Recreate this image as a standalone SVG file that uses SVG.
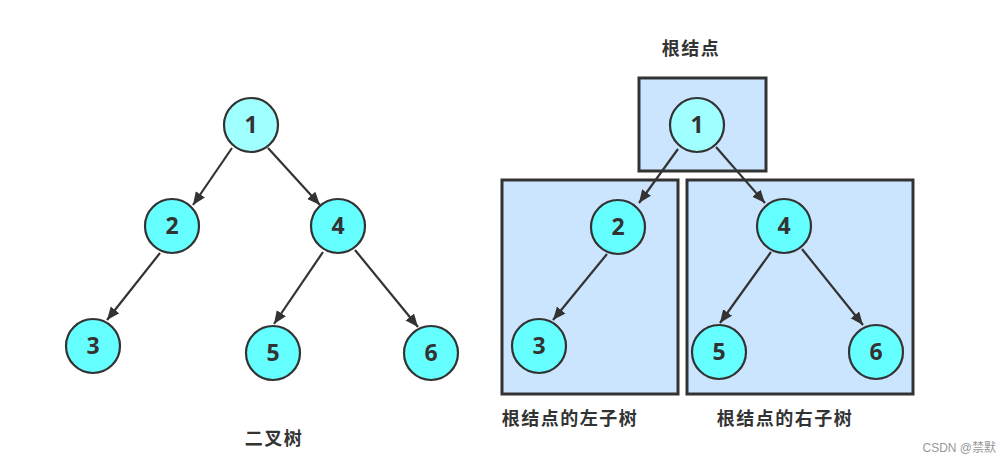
<svg xmlns="http://www.w3.org/2000/svg" width="1004" height="463" viewBox="0 0 1004 463">
<style>
.node{stroke:#333;stroke-width:2.2;fill:#66ffff}
.root{fill:#a0ffff}
.num{font-family:"Open Sans","DejaVu Sans",sans-serif;font-weight:bold;font-size:23px;fill:#333;text-anchor:middle}
.edge{stroke:#333;stroke-width:2.2;fill:none;marker-end:url(#arr)}
.box{fill:#cce5ff;stroke:#333;stroke-width:3}
.lbl{font-family:"Noto Sans CJK SC","Noto Sans",sans-serif;font-weight:bold;font-size:18px;fill:#333;letter-spacing:1.5px;text-anchor:middle}
.wm{font-family:"Liberation Sans","Noto Sans CJK SC",sans-serif;font-size:12px;fill:#999;text-anchor:end}
</style>
<defs>
<marker id="arr" markerUnits="userSpaceOnUse" markerWidth="14" markerHeight="12" refX="13" refY="6" orient="auto">
<path d="M0,0.5 L13,6 L0,11.5 z" fill="#333"/>
</marker>
</defs>
<rect width="1004" height="463" fill="#fff"/>
<g id="boxes">
<rect id="box-root" class="box" x="639" y="78" width="127" height="93"/>
<rect id="box-left" class="box" x="502" y="180" width="176" height="214"/>
<rect id="box-right" class="box" x="687" y="180" width="226" height="214"/>
</g>
<g id="connectors">
<line class="edge" x1="232" y1="148" x2="193" y2="205"/>
<line class="edge" x1="268" y1="148" x2="320" y2="205"/>
<line class="edge" x1="160" y1="253" x2="107" y2="320"/>
<line class="edge" x1="323" y1="252" x2="274" y2="324"/>
<line class="edge" x1="355" y1="250" x2="418" y2="327"/>
<line class="edge" x1="678" y1="149" x2="639" y2="203"/>
<line class="edge" x1="716" y1="147" x2="765" y2="203"/>
<line class="edge" x1="607" y1="254" x2="553" y2="320"/>
<line class="edge" x1="771" y1="252" x2="720" y2="323"/>
<line class="edge" x1="802" y1="249" x2="863" y2="325"/>
</g>
<g id="L1"><circle class="node root" cx="251" cy="125" r="27"/><text class="num" x="251" y="133">1</text></g>
<g id="L2"><circle class="node" cx="172" cy="226" r="27"/><text class="num" x="172" y="234">2</text></g>
<g id="L4"><circle class="node" cx="338" cy="226" r="27"/><text class="num" x="338" y="234">4</text></g>
<g id="L3"><circle class="node" cx="93" cy="346" r="27"/><text class="num" x="93" y="354">3</text></g>
<g id="L5"><circle class="node" cx="273" cy="353" r="27"/><text class="num" x="273" y="361">5</text></g>
<g id="L6"><circle class="node" cx="431" cy="353" r="27"/><text class="num" x="431" y="361">6</text></g>
<g id="R1"><circle class="node root" cx="697" cy="125" r="27"/><text class="num" x="697" y="133">1</text></g>
<g id="R2"><circle class="node" cx="618" cy="227" r="27"/><text class="num" x="618" y="235">2</text></g>
<g id="R4"><circle class="node" cx="784" cy="226" r="27"/><text class="num" x="784" y="234">4</text></g>
<g id="R3"><circle class="node" cx="539" cy="346" r="27"/><text class="num" x="539" y="354">3</text></g>
<g id="R5"><circle class="node" cx="719" cy="352" r="27"/><text class="num" x="719" y="360">5</text></g>
<g id="R6"><circle class="node" cx="876" cy="352" r="27"/><text class="num" x="876" y="360">6</text></g>
<g id="labels">
<text class="lbl" x="274" y="445">二叉树</text>
<text class="lbl" x="691" y="55">根结点</text>
<text class="lbl" x="570" y="425">根结点的左子树</text>
<text class="lbl" x="785" y="425">根结点的右子树</text>
<text class="wm" x="996" y="452">CSDN @禁默</text>
</g>
</svg>
